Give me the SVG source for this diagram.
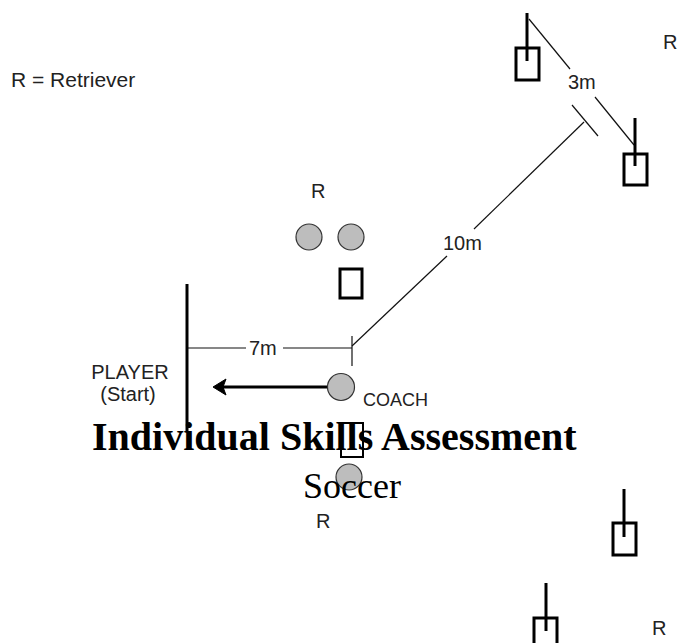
<svg xmlns="http://www.w3.org/2000/svg" width="677" height="643" viewBox="0 0 677 643">
  <style>
    .lbl { font-family: "Liberation Sans", Arial, sans-serif; font-size: 20px; fill: #222; }
    .cone { fill: none; stroke: #000; stroke-width: 3; }
    .ball { fill: #bdbdbd; stroke: #333; stroke-width: 1.2; }
    .thin { stroke: #111; stroke-width: 1.2; fill: none; }
    .thick { stroke: #000; stroke-width: 3; fill: none; }
  </style>
  <rect width="677" height="643" fill="#fff"/>

  <text class="lbl" x="11" y="87" style="font-size:21px">R = Retriever</text>

  <g id="connectors">
    <!-- 3m line -->
    <line class="thin" x1="529" y1="19" x2="570" y2="69"/>
    <line class="thin" x1="595" y1="97" x2="634" y2="145"/>
    <!-- 3m gap bar -->
    <line class="thin" x1="572" y1="105" x2="598" y2="136"/>
    <!-- 10m line -->
    <line class="thin" x1="352" y1="346" x2="447" y2="256"/>
    <line class="thin" x1="474" y1="229" x2="584" y2="122"/>
    <!-- 7m line -->
    <line class="thin" x1="187" y1="348" x2="246" y2="348"/>
    <line class="thin" x1="283" y1="348" x2="352" y2="348"/>
    <line class="thin" x1="352" y1="336" x2="352" y2="366"/>
    <!-- start line -->
    <line class="thick" x1="187" y1="284" x2="187" y2="431"/>
    <!-- arrow -->
    <line class="thick" x1="327" y1="387" x2="222" y2="387"/>
    <path d="M213,387 L226,379 L223,387 L226,395 Z" fill="#000" stroke="#000" stroke-width="1"/>
  </g>

  <g id="marker-top-left">
    <line class="thick" x1="527" y1="13" x2="527" y2="61"/>
    <rect class="cone" x="516" y="48" width="23" height="32"/>
  </g>
  <g id="marker-top-right">
    <line class="thick" x1="635" y1="118" x2="635" y2="166"/>
    <rect class="cone" x="624" y="154" width="23" height="31"/>
  </g>
  <g id="marker-bottom-right">
    <line class="thick" x1="624" y1="489" x2="624" y2="537"/>
    <rect class="cone" x="613" y="523" width="23" height="32"/>
  </g>
  <g id="marker-bottom">
    <line class="thick" x1="546" y1="583" x2="546" y2="631"/>
    <rect class="cone" x="534" y="618" width="23" height="32"/>
  </g>

  <g id="retrievers-top">
    <circle class="ball" cx="309" cy="237" r="13"/>
    <circle class="ball" cx="351" cy="237" r="13"/>
    <rect class="cone" x="340" y="269" width="22" height="29"/>
  </g>

  <g id="coach">
    <circle class="ball" cx="341" cy="387" r="13.5"/>
  </g>

  <g id="center-bottom">
    <rect fill="none" stroke="#000" stroke-width="2" x="341" y="423" width="22" height="34"/>
    <circle class="ball" cx="349" cy="477" r="13"/>
  </g>

  <g id="labels">
    <text class="lbl" x="311" y="198">R</text>
    <text class="lbl" x="663" y="49">R</text>
    <text class="lbl" x="316" y="528">R</text>
    <text class="lbl" x="652" y="635">R</text>
    <text class="lbl" x="568" y="89">3m</text>
    <text class="lbl" x="443" y="250">10m</text>
    <text class="lbl" x="249" y="355">7m</text>
    <text class="lbl" x="130" y="379" text-anchor="middle">PLAYER</text>
    <text class="lbl" x="128" y="401" text-anchor="middle">(Start)</text>
    <text class="lbl" x="363" y="406" style="font-size:18px">COACH</text>
  </g>

  <g id="title">
    <text x="92" y="450" style="font-family:'Liberation Serif','Times New Roman',serif;font-size:40px;font-weight:bold;fill:#000">Individual Skills Assessment</text>
    <text x="303" y="498" style="font-family:'Liberation Serif','Times New Roman',serif;font-size:36px;fill:#000">Soccer</text>
  </g>
</svg>
